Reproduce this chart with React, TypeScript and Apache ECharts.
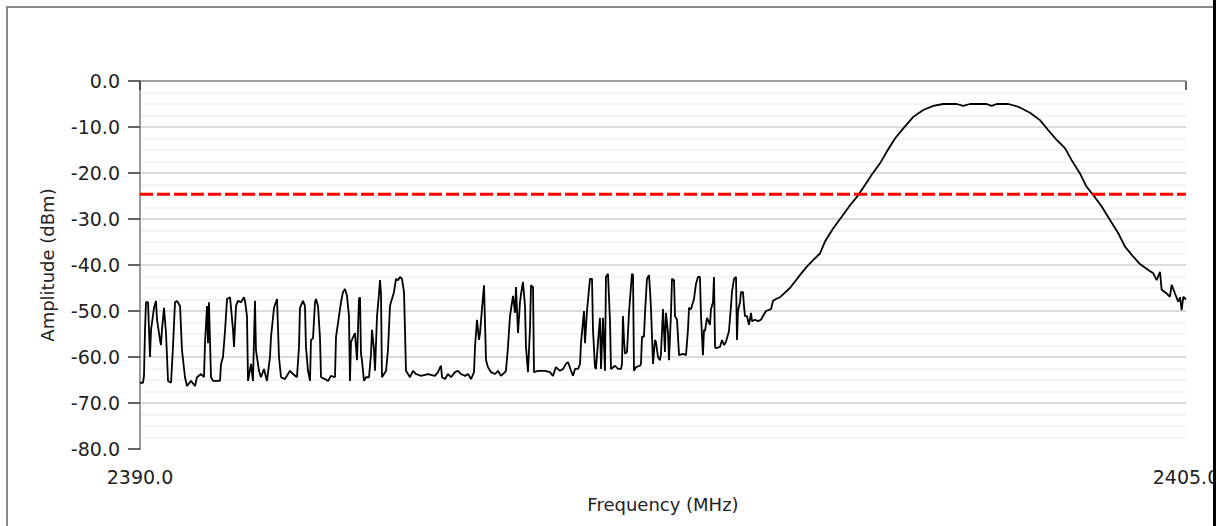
import React, { useEffect, useRef } from "react";
import * as echarts from "echarts";

const freqMin = 2390.0;
const freqMax = 2405.0;
const ampMin = -80;
const ampMax = 0;
const ampStep = 10;
const thresholdDbm = -24.6;

const traceMHz = [
  2390.000, 2390.043, 2390.057, 2390.072, 2390.086, 2390.115, 2390.143, 2390.158, 2390.201, 2390.229,
  2390.244, 2390.287, 2390.301, 2390.315, 2390.344, 2390.373, 2390.402, 2390.445, 2390.473, 2390.502,
  2390.531, 2390.574, 2390.602, 2390.645, 2390.674, 2390.731, 2390.789, 2390.817, 2390.875, 2390.918,
  2390.932, 2390.961, 2390.975, 2390.989, 2391.018, 2391.047, 2391.147, 2391.162, 2391.190, 2391.219,
  2391.248, 2391.291, 2391.334, 2391.348, 2391.377, 2391.405, 2391.448, 2391.491, 2391.506, 2391.534,
  2391.549, 2391.592, 2391.620, 2391.649, 2391.663, 2391.706, 2391.735, 2391.778, 2391.821, 2391.864,
  2391.879, 2391.922, 2391.965, 2391.993, 2392.022, 2392.079, 2392.151, 2392.194, 2392.251, 2392.280,
  2392.294, 2392.337, 2392.366, 2392.380, 2392.409, 2392.438, 2392.452, 2392.481, 2392.510, 2392.524,
  2392.553, 2392.581, 2392.596, 2392.653, 2392.696, 2392.739, 2392.796, 2392.811, 2392.854, 2392.882,
  2392.911, 2392.940, 2392.968, 2392.997, 2393.011, 2393.026, 2393.083, 2393.112, 2393.140, 2393.155,
  2393.169, 2393.183, 2393.212, 2393.241, 2393.284, 2393.313, 2393.327, 2393.356, 2393.370, 2393.399,
  2393.427, 2393.442, 2393.456, 2393.470, 2393.499, 2393.528, 2393.556, 2393.585, 2393.599, 2393.642,
  2393.671, 2393.700, 2393.728, 2393.757, 2393.786, 2393.800, 2393.814, 2393.872, 2393.915, 2393.958,
  2394.030, 2394.130, 2394.230, 2394.273, 2394.316, 2394.331, 2394.374, 2394.417, 2394.460, 2394.517,
  2394.560, 2394.603, 2394.661, 2394.704, 2394.747, 2394.790, 2394.804, 2394.833, 2394.861, 2394.876,
  2394.904, 2394.933, 2394.947, 2394.962, 2394.990, 2395.033, 2395.091, 2395.134, 2395.177, 2395.234,
  2395.248, 2395.277, 2395.306, 2395.349, 2395.378, 2395.392, 2395.421, 2395.449, 2395.464, 2395.492,
  2395.521, 2395.535, 2395.564, 2395.593, 2395.607, 2395.636, 2395.650, 2395.707, 2395.808, 2395.879,
  2395.922, 2395.965, 2396.023, 2396.066, 2396.109, 2396.138, 2396.181, 2396.209, 2396.238, 2396.281,
  2396.310, 2396.324, 2396.367, 2396.381, 2396.410, 2396.453, 2396.482, 2396.496, 2396.525, 2396.539,
  2396.568, 2396.596, 2396.611, 2396.639, 2396.668, 2396.682, 2396.711, 2396.740, 2396.754, 2396.812,
  2396.855, 2396.898, 2396.912, 2396.926, 2396.941, 2396.955, 2396.984, 2397.012, 2397.055, 2397.070,
  2397.084, 2397.113, 2397.170, 2397.184, 2397.199, 2397.227, 2397.242, 2397.270, 2397.299, 2397.313,
  2397.328, 2397.357, 2397.385, 2397.399, 2397.428, 2397.457, 2397.471, 2397.500, 2397.528, 2397.543,
  2397.572, 2397.586, 2397.615, 2397.629, 2397.658, 2397.672, 2397.701, 2397.730, 2397.787, 2397.830,
  2397.858, 2397.873, 2397.901, 2397.944, 2397.973, 2398.002, 2398.030, 2398.045, 2398.073, 2398.088,
  2398.102, 2398.131, 2398.174, 2398.188, 2398.217, 2398.231, 2398.246, 2398.260, 2398.317, 2398.346,
  2398.375, 2398.403, 2398.446, 2398.475, 2398.489, 2398.518, 2398.547, 2398.561, 2398.575, 2398.604,
  2398.618, 2398.647, 2398.661, 2398.676, 2398.704, 2398.733, 2398.762, 2398.776, 2398.819, 2398.862,
  2398.905, 2398.948, 2398.977, 2399.049, 2399.077, 2399.120, 2399.178, 2399.321, 2399.464, 2399.560,
  2399.655, 2399.751, 2399.823, 2399.942, 2400.063, 2400.182, 2400.301, 2400.397, 2400.493, 2400.612,
  2400.708, 2400.827, 2400.946, 2401.089, 2401.232, 2401.376, 2401.519, 2401.711, 2401.806, 2401.902,
  2402.141, 2402.213, 2402.285, 2402.452, 2402.595, 2402.763, 2402.906, 2403.025, 2403.145, 2403.264,
  2403.360, 2403.479, 2403.575, 2403.670, 2403.791, 2403.910, 2404.029, 2404.125, 2404.244, 2404.340,
  2404.459, 2404.531, 2404.579, 2404.627, 2404.651, 2404.723, 2404.770, 2404.794, 2404.842, 2404.889,
  2404.914, 2404.938, 2404.961, 2405.000,
];

const traceDbm = [
  -65.6, -65.6, -64.1, -54.1, -48.1, -48.1, -60.0, -54.1, -49.3, -47.8,
  -51.9, -56.3, -57.4, -54.1, -49.3, -54.8, -65.2, -65.6, -57.8, -48.1,
  -47.8, -48.9, -58.5, -64.4, -66.3, -65.2, -66.3, -64.4, -63.7, -64.4,
  -57.0, -48.9, -57.0, -48.1, -64.4, -65.2, -65.2, -61.5, -60.0, -54.4,
  -47.4, -47.0, -54.1, -57.8, -48.9, -47.8, -48.1, -47.0, -47.8, -51.1,
  -65.2, -61.5, -65.2, -47.8, -58.5, -63.0, -64.4, -62.6, -65.2, -60.0,
  -55.6, -49.3, -47.4, -60.0, -64.4, -64.8, -63.0, -63.7, -64.4, -57.8,
  -49.3, -47.8, -48.9, -57.8, -63.0, -65.2, -56.3, -55.9, -48.1, -47.4,
  -48.9, -55.9, -64.4, -64.8, -65.2, -64.1, -64.4, -55.6, -51.1, -48.1,
  -45.9, -45.2, -46.7, -51.1, -65.2, -56.7, -54.8, -60.7, -47.4, -47.0,
  -59.3, -60.7, -65.2, -64.4, -64.4, -59.3, -54.1, -58.5, -63.0, -51.1,
  -46.3, -43.3, -46.3, -64.4, -63.7, -63.0, -58.5, -48.9, -48.1, -45.9,
  -43.0, -43.3, -42.6, -43.0, -45.9, -54.1, -63.0, -64.4, -63.0, -63.7,
  -64.1, -63.7, -64.1, -63.3, -61.9, -64.4, -64.8, -63.7, -64.4, -63.3,
  -63.0, -63.7, -64.1, -63.7, -64.8, -63.3, -57.8, -51.9, -56.3, -54.8,
  -49.6, -44.4, -52.2, -60.7, -62.2, -63.3, -63.7, -63.0, -64.1, -63.3,
  -63.0, -57.8, -51.1, -46.7, -50.4, -44.8, -54.8, -48.1, -46.3, -43.7,
  -48.9, -57.8, -63.3, -53.7, -44.4, -44.8, -63.3, -63.0, -63.0, -63.3,
  -64.1, -62.2, -63.0, -62.6, -61.5, -61.1, -63.0, -64.1, -62.6, -62.6,
  -61.5, -57.0, -50.0, -57.0, -50.0, -43.0, -43.0, -54.1, -62.2, -62.6,
  -56.7, -51.5, -62.6, -51.5, -63.0, -42.6, -41.9, -52.2, -62.6, -61.9,
  -62.6, -62.6, -61.5, -51.1, -56.3, -59.3, -58.9, -50.4, -41.9, -42.2,
  -63.0, -62.2, -61.9, -61.5, -55.6, -55.6, -50.4, -43.0, -42.2, -45.2,
  -49.6, -61.5, -56.3, -56.7, -60.0, -60.7, -59.3, -49.6, -58.9, -50.4,
  -54.8, -60.7, -50.4, -43.0, -43.3, -51.1, -51.9, -59.6, -59.3, -59.6,
  -54.1, -49.3, -49.6, -47.4, -44.1, -42.6, -42.6, -51.1, -59.6, -54.1,
  -54.4, -51.5, -53.0, -49.6, -48.1, -42.6, -57.8, -58.1, -57.8, -56.3,
  -57.4, -56.7, -54.4, -48.9, -45.9, -43.0, -42.6, -56.3, -50.0, -48.1,
  -45.9, -45.9, -48.9, -51.1, -51.1, -53.0, -50.4, -52.2, -51.9, -52.2,
  -51.9, -50.7, -50.0, -49.6, -47.8, -47.4, -47.0, -45.0, -42.2, -40.4,
  -38.9, -37.5, -34.9, -32.0, -29.5, -27.0, -24.8, -22.6, -20.4, -17.9,
  -15.4, -12.5, -10.3, -7.8, -6.3, -5.4, -5.0, -5.0, -5.4, -5.0,
  -5.0, -5.4, -5.0, -5.0, -5.6, -6.9, -8.5, -10.7, -12.8, -14.6,
  -17.2, -20.1, -23.0, -24.8, -27.3, -30.2, -33.1, -36.0, -38.2, -39.8,
  -41.1, -41.8, -43.3, -41.5, -45.4, -46.2, -46.9, -44.3, -46.2, -48.0,
  -47.0, -49.8, -46.9, -47.5,
];

const FONT = "DejaVu Sans";

export default function App() {
  const ref = useRef<HTMLDivElement>(null);
  useEffect(() => {
    const chart = echarts.init(ref.current as HTMLDivElement, null, { renderer: "svg" });
    const fmt = (v: number) => v.toFixed(1);
    chart.setOption({
      animation: false,
      backgroundColor: "#ffffff",
      grid: {
        left: 140,
        top: 81,
        width: 1046,
        height: 368,
        containLabel: false,
        outerBoundsMode: "none",
      },
      xAxis: {
        type: "value",
        min: freqMin,
        max: freqMax,
        interval: freqMax - freqMin,
        offset: 4,
        axisLine: { show: false },
        axisTick: { show: true, length: 9, lineStyle: { color: "#333", width: 1.5 } },
        axisLabel: {
          formatter: fmt,
          fontFamily: FONT,
          fontSize: 19,
          color: "#222",
          margin: 14,
          showMinLabel: true,
          showMaxLabel: true,
        },
        splitLine: { show: false },
        name: "Frequency (MHz)",
        nameLocation: "middle",
        nameGap: 42,
        nameTextStyle: { fontFamily: FONT, fontSize: 18, color: "#222" },
      },
      yAxis: {
        type: "value",
        min: ampMin,
        max: ampMax,
        interval: ampStep,
        axisLine: { show: true, lineStyle: { color: "#9a9a9a", width: 2 } },
        axisTick: { show: true, length: 12, lineStyle: { color: "#333", width: 1.5 } },
        axisLabel: { formatter: fmt, fontFamily: FONT, fontSize: 19, color: "#222", margin: 20 },
        splitLine: { show: true, showMinLine: false, lineStyle: { color: "#cfcfcf", width: 1.5 } },
        minorTick: { show: false, splitNumber: 4 },
        minorSplitLine: { show: true, lineStyle: { color: "#f0f0f0", width: 1.5 } },
        name: "Amplitude (dBm)",
        nameLocation: "middle",
        nameRotate: 90,
        nameGap: 84,
        nameTextStyle: { fontFamily: FONT, fontSize: 18, color: "#222" },
      },
      series: [
        {
          type: "line",
          data: traceMHz.map((f, i) => [f, traceDbm[i]]),
          symbol: "none",
          showSymbol: false,
          lineStyle: { color: "#000", width: 1.8 },
          z: 3,
          markLine: {
            silent: true,
            symbol: "none",
            label: { show: false },
            lineStyle: { color: "#8c8c8c", type: "solid", width: 1.5 },
            data: [{ yAxis: ampMax }],
          },
        },
        {
          type: "line",
          data: [
            [freqMin, thresholdDbm],
            [freqMax, thresholdDbm],
          ],
          symbol: "none",
          showSymbol: false,
          lineStyle: { color: "#ff0000", width: 3, type: [13, 4] },
          z: 4,
        },
      ],
      graphic: [
        {
          type: "rect",
          shape: { x: 7, y: 7, width: 1230, height: 540 },
          style: { fill: "none", stroke: "#888888", lineWidth: 2 },
          z: 100,
        },
        {
          type: "rect",
          shape: { x: 1213, y: 0, width: 3, height: 526 },
          style: { fill: "#000000" },
          z: 101,
        },
      ],
    });
    return () => chart.dispose();
  }, []);
  return (
    <div
      ref={ref}
      style={{ position: "absolute", left: 0, top: 0, width: 1216, height: 526 }}
    />
  );
}
